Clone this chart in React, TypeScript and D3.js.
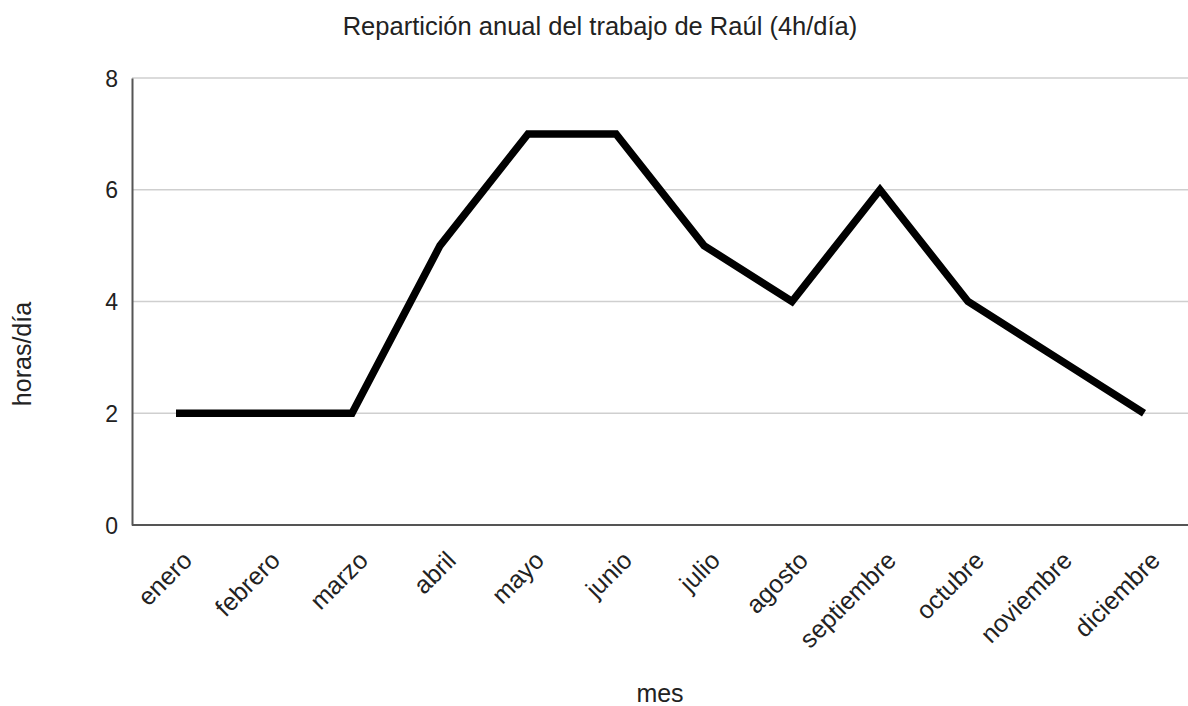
import React, { useRef, useEffect } from "react";
import * as d3 from "d3";

const months = [
  "enero", "febrero", "marzo", "abril", "mayo", "junio",
  "julio", "agosto", "septiembre", "octubre", "noviembre", "diciembre",
];
const hours = [2, 2, 2, 5, 7, 7, 5, 4, 6, 4, 3, 2];
const yTicks = [0, 2, 4, 6, 8];

const W = 1188;
const H = 706;

const App = () => {
  const svgRef = useRef<SVGSVGElement>(null);

  useEffect(() => {
    const svg = d3.select(svgRef.current);
    svg.selectAll("*").remove();
    const font = "'Liberation Sans', Arial, sans-serif";

    const x = d3.scalePoint<string>().domain(months).range([132, 1188]).padding(0.5);
    const y = d3.scaleLinear().domain([0, 8]).range([525, 78]);

    // gridlines
    svg
      .append("g")
      .selectAll("line")
      .data(yTicks.filter((d) => d > 0))
      .enter()
      .append("line")
      .attr("x1", 132)
      .attr("x2", W)
      .attr("y1", (d) => y(d))
      .attr("y2", (d) => y(d))
      .attr("stroke", "#cfcfcf")
      .attr("stroke-width", 1.5);

    // y axis
    const yAxis = svg
      .append("g")
      .attr("transform", "translate(132,0)")
      .call(d3.axisLeft(y).tickValues(yTicks).tickSize(0).tickPadding(14));
    yAxis.select(".domain").attr("stroke", "#555").attr("stroke-width", 2);
    yAxis
      .selectAll("text")
      .attr("font-family", font)
      .attr("font-size", 23)
      .attr("fill", "#222")
      .attr("dy", "0.35em");

    // x axis
    const xAxis = svg
      .append("g")
      .attr("transform", "translate(0,525)")
      .call(d3.axisBottom(x).tickSize(0).tickPadding(0));
    xAxis
      .select(".domain")
      .attr("d", `M132,0H${W}`)
      .attr("stroke", "#555")
      .attr("stroke-width", 2);
    xAxis
      .selectAll("text")
      .attr("font-family", font)
      .attr("font-size", 25)
      .attr("fill", "#222")
      .attr("text-anchor", "end")
      .attr("dy", 0)
      .attr("transform", "translate(17,37) rotate(-45)");

    // line
    const line = d3
      .line<number>()
      .x((_, i) => x(months[i]) as number)
      .y((d) => y(d));
    svg
      .append("path")
      .datum(hours)
      .attr("d", line)
      .attr("fill", "none")
      .attr("stroke", "#000")
      .attr("stroke-width", 7.5)
      .attr("stroke-linejoin", "miter");

    // title and axis labels
    svg
      .append("text")
      .attr("x", 600)
      .attr("y", 35)
      .attr("text-anchor", "middle")
      .attr("font-family", font)
      .attr("font-size", 25.5)
      .attr("fill", "#222")
      .text("Repartición anual del trabajo de Raúl (4h/día)");
    svg
      .append("text")
      .attr("x", 660)
      .attr("y", 702)
      .attr("text-anchor", "middle")
      .attr("font-family", font)
      .attr("font-size", 25)
      .attr("fill", "#222")
      .text("mes");
    svg
      .append("text")
      .attr("transform", "translate(31,354) rotate(-90)")
      .attr("text-anchor", "middle")
      .attr("font-family", font)
      .attr("font-size", 25)
      .attr("fill", "#222")
      .text("horas/día");
  }, []);

  return (
    <svg
      ref={svgRef}
      width={W}
      height={H}
      style={{ position: "absolute", left: 0, top: 0, background: "#fff" }}
    ></svg>
  );
};

export default App;
